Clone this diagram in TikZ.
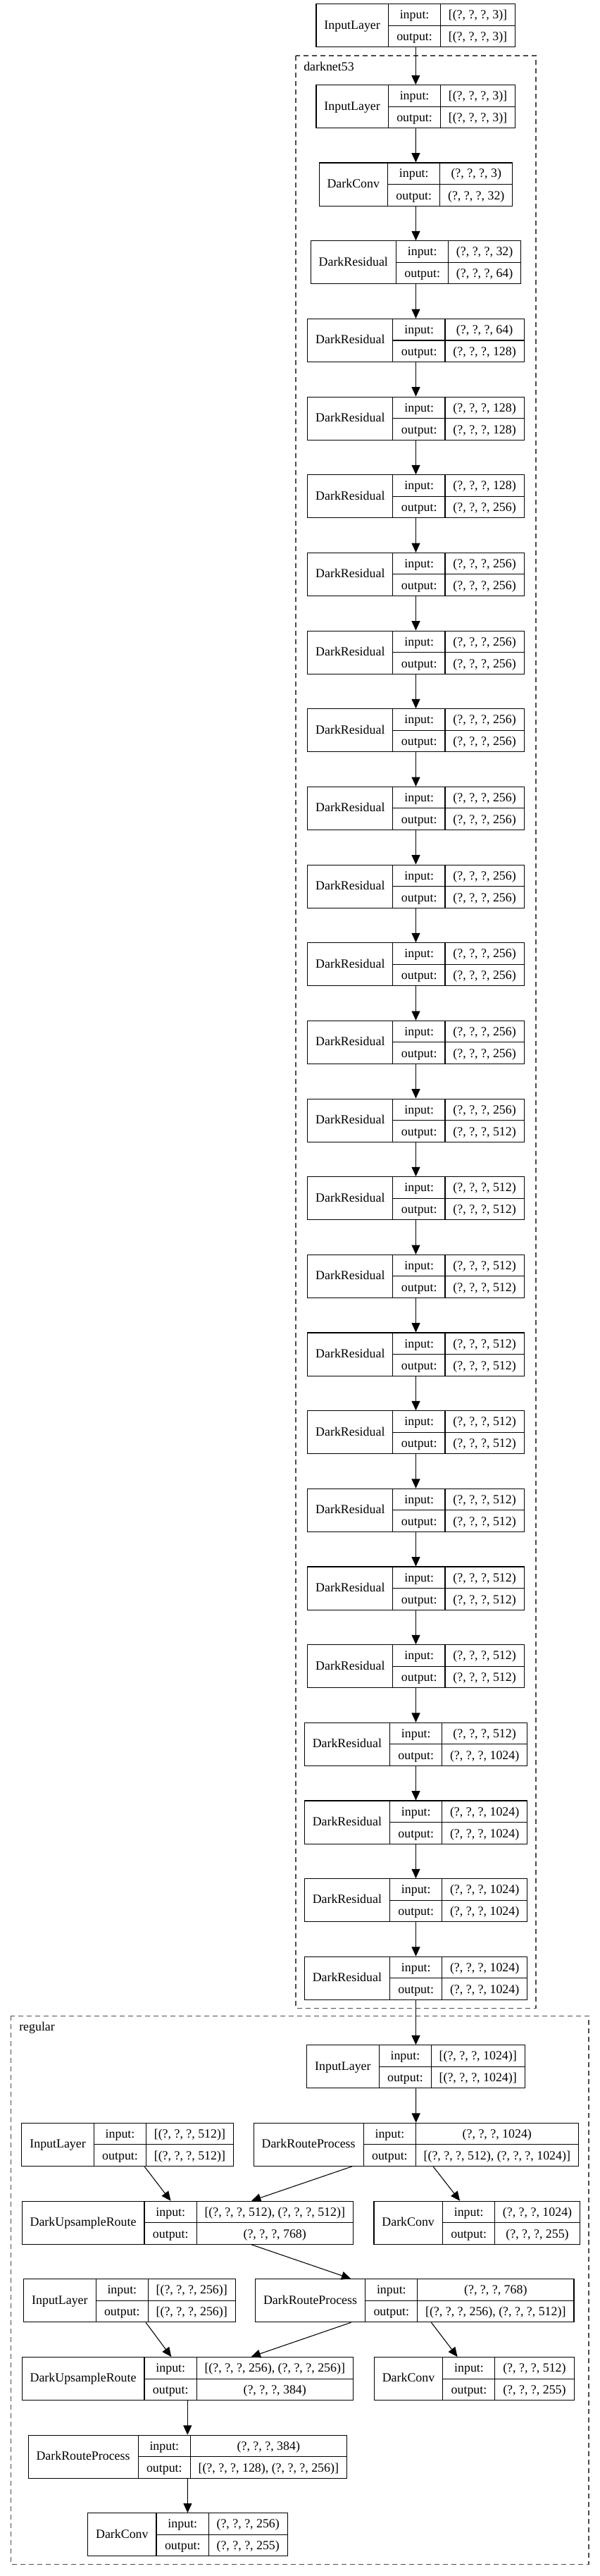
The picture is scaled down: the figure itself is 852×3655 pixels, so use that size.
\documentclass[tikz,border=0pt]{standalone}
\usepackage{fontspec}
\setmainfont{Liberation Serif}
\usetikzlibrary{arrows.meta}

\setlength{\arrayrulewidth}{0.8pt}
\setlength{\tabcolsep}{8.6pt}
% record: type | input/output shapes
\newcommand{\layerrec}[3]{%
  \begin{tabular}{c|@{}c@{}}
    #1 & \begin{tabular}{c|c} input: & #2\\\hline output: & #3\end{tabular}
  \end{tabular}}

\tikzset{
  layerbox/.style={draw, line width=0.8pt, inner sep=0pt, font=\fontsize{13.4}{22.5}\selectfont},
  conn/.style={-{Triangle[length=10pt,width=9pt]}, line width=0.8pt},
  groupbox/.style={draw=black!70, line width=0.8pt, dash pattern=on 5pt off 4pt},
  grouplabel/.style={anchor=base west, inner sep=0pt, font=\fontsize{13.4}{16}\selectfont}
}

\begin{document}
\begin{tikzpicture}[x=0.75pt, y=-0.75pt]
\useasboundingbox (0,0) rectangle (852,3655);
% clusters
\draw[groupbox] (420,79) rectangle (761,2849);
\node[grouplabel] (lblA) at (431,100) {darknet53};
\draw[groupbox] (15.7,2860) rectangle (836,3638.3);
\node[grouplabel] (lblB) at (27,2881) {regular};

% backbone
\node[layerbox] (in0) at (590.3,36.2) {\layerrec{InputLayer}{[(?, ?, ?, 3)]}{[(?, ?, ?, 3)]}};
\node[layerbox] (in1) at (590.3,151.2) {\layerrec{InputLayer}{[(?, ?, ?, 3)]}{[(?, ?, ?, 3)]}};
\node[layerbox] (conv0) at (590.5,261.5) {\layerrec{DarkConv}{(?, ?, ?, 3)}{(?, ?, ?, 32)}};
\foreach \i/\a/\b in {1/32/64,2/64/128,3/128/128,4/128/256,5/256/256,6/256/256,7/256/256,8/256/256,
    9/256/256,10/256/256,11/256/256,12/256/512,13/512/512,14/512/512,15/512/512,16/512/512,
    17/512/512,18/512/512,19/512/512,20/512/1024,21/1024/1024,22/1024/1024,23/1024/1024} {
  \node[layerbox] (res\i) at (590.5,{372.3+(\i-1)*110.66}) {\layerrec{DarkResidual}{(?, ?, ?, \a)}{(?, ?, ?, \b)}};
}

% head
\node[layerbox] (hin) at (590.5,2932.3) {\layerrec{InputLayer}{[(?, ?, ?, 1024)]}{[(?, ?, ?, 1024)]}};
\node[layerbox] (route1) at (590.8,3042.8) {\layerrec{DarkRouteProcess}{(?, ?, ?, 1024)}{[(?, ?, ?, 512), (?, ?, ?, 1024)]}};
\node[layerbox] (hin512) at (181.2,3042.8) {\layerrec{InputLayer}{[(?, ?, ?, 512)]}{[(?, ?, ?, 512)]}};
\node[layerbox] (up1) at (266.3,3153.7) {\layerrec{DarkUpsampleRoute}{[(?, ?, ?, 512), (?, ?, ?, 512)]}{(?, ?, ?, 768)}};
\node[layerbox] (out1) at (677.3,3153.7) {\layerrec{DarkConv}{(?, ?, ?, 1024)}{(?, ?, ?, 255)}};
\node[layerbox] (hin256) at (184,3264.2) {\layerrec{InputLayer}{[(?, ?, ?, 256)]}{[(?, ?, ?, 256)]}};
\node[layerbox] (route2) at (588.8,3264.2) {\layerrec{DarkRouteProcess}{(?, ?, ?, 768)}{[(?, ?, ?, 256), (?, ?, ?, 512)]}};
\node[layerbox] (up2) at (266.3,3375) {\layerrec{DarkUpsampleRoute}{[(?, ?, ?, 256), (?, ?, ?, 256)]}{(?, ?, ?, 384)}};
\node[layerbox] (out2) at (673.2,3375) {\layerrec{DarkConv}{(?, ?, ?, 512)}{(?, ?, ?, 255)}};
\node[layerbox] (route3) at (266.3,3485.7) {\layerrec{DarkRouteProcess}{(?, ?, ?, 384)}{[(?, ?, ?, 128), (?, ?, ?, 256)]}};
\node[layerbox] (out3) at (266.5,3596.3) {\layerrec{DarkConv}{(?, ?, ?, 256)}{(?, ?, ?, 255)}};

% connections
\draw[conn] (in0) -- (in1);
\draw[conn] (in1) -- (conv0);
\draw[conn] (conv0) -- (res1);
\foreach \i in {1,...,22} {
  \pgfmathtruncatemacro{\j}{\i+1}
  \draw[conn] (res\i) -- (res\j);
}
\draw[conn] (res23) -- (hin);
\draw[conn] (hin) -- (route1);
\draw[conn] (hin512) -- (up1);
\draw[conn] (route1) -- (up1);
\draw[conn] (route1) -- (out1);
\draw[conn] (up1) -- (route2);
\draw[conn] (hin256) -- (up2);
\draw[conn] (route2) -- (up2);
\draw[conn] (route2) -- (out2);
\draw[conn] (up2) -- (route3);
\draw[conn] (route3) -- (out3);
\end{tikzpicture}
\end{document}
